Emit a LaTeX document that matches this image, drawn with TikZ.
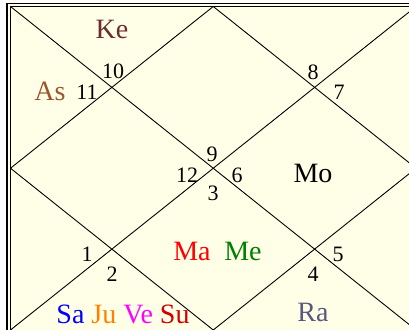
\documentclass[tikz,border=0pt]{standalone}
\usepackage{fontspec}
\setmainfont{Liberation Serif}
\usepackage{xcolor}
\usetikzlibrary{positioning, calc}

\definecolor{chartbg}{RGB}{255,255,232}
\definecolor{keclr}{RGB}{110,44,44}
\definecolor{asclr}{RGB}{158,84,44}
\definecolor{raclr}{RGB}{88,88,128}
\definecolor{suclr}{RGB}{208,0,0}
\definecolor{juclr}{RGB}{255,128,0}
\definecolor{veclr}{RGB}{255,0,255}

\begin{document}
\begin{tikzpicture}[
  x=1pt, y=-1pt,
  house/.style={font=\fontsize{22}{22}\selectfont, inner sep=0pt, anchor=base},
  planet/.style={font=\fontsize{28}{28}\selectfont, inner sep=0pt, anchor=base},
  chartline/.style={line width=0.9pt, black},
  frame/.style={line width=1.2pt, black},
]
\useasboundingbox (0,0) rectangle (409,329);

% ===== Frame and houses =====
\fill[white] (-3,-3) rectangle (412,332);
\fill[chartbg] (7,3.5) rectangle (440,354);
\draw[frame] (7,3.5) rectangle (440,354);
\draw[frame] (10.5,6.5) rectangle (436,350);

\coordinate (tl) at (10.5,6.5);
\coordinate (tr) at (416,6.5);
\coordinate (br) at (416,330);
\coordinate (bl) at (10.5,330);
\coordinate (tm) at ($(tl)!0.5!(tr)$);
\coordinate (rm) at ($(tr)!0.5!(br)$);
\coordinate (bm) at ($(bl)!0.5!(br)$);
\coordinate (lm) at ($(tl)!0.5!(bl)$);

\begin{scope}
\clip (10.5,6.5) rectangle (412,332);
\draw[chartline] (tl) -- (br);
\draw[chartline] (tr) -- (bl);
\draw[chartline] (tm) -- (rm) -- (bm) -- (lm) -- cycle;
\end{scope}

% ===== House numbers =====
\node[house] (h10) at (113,78) {10};
\node[house] (h11) at (87,99) {11};
\node[house] (h8) at (313,79) {8};
\node[house] (h7) at (339,99) {7};
\node[house] (h9) at (212,161) {9};
\node[house] (h12) at (187,182) {12};
\node[house] (h6) at (237,182) {6};
\node[house] (h3) at (213,200) {3};
\node[house] (h1) at (87,261) {1};
\node[house] (h2) at (112,281) {2};
\node[house] (h5) at (338,261) {5};
\node[house] (h4) at (313,281) {4};

% ===== Planets =====
\node[planet, text=keclr] (ke) at (112,38) {Ke};
\node[planet, text=asclr] (as) at (50,100) {As};
\node[planet] (mo) at (313,182) {Mo};
\node[planet, text=red] (ma) at (192,260) {Ma};
\node[planet, text=green!50!black] (me) at (243,260) {Me};
\node[planet] (lagna2) at (123,323) {\textcolor{blue}{Sa} \textcolor{juclr}{Ju}
  \textcolor{veclr}{Ve} \textcolor{suclr}{Su}};
\node[planet, text=raclr] (ra) at (313,321) {Ra};

\end{tikzpicture}
\end{document}
